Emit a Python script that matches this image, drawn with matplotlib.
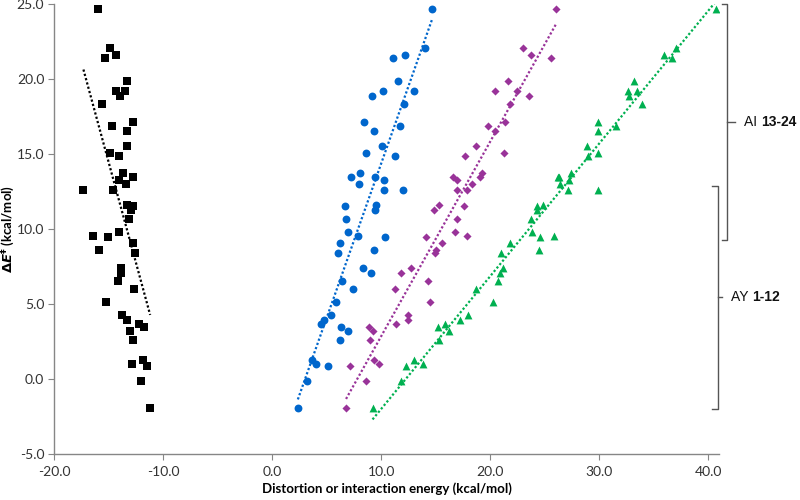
import numpy as np
import matplotlib
matplotlib.use("Agg")
import matplotlib.pyplot as plt

# Shared activation barriers (kcal/mol), one per point
dE = [24.7, 22.1, 21.6, 21.37, 19.87, 19.22, 19.18, 18.84, 18.35, 17.12, 16.9, 16.52,
      15.52, 15.05, 14.89, 13.71, 13.46, 13.44, 13.24, 13.01, 12.59, 12.57, 11.57, 11.54,
      11.3, 10.65, 9.78, 9.53, 9.47, 9.09, 8.57, 8.37, 7.39, 7.1, 6.56, 6.03, 5.11, 4.24,
      3.95, 3.68, 3.5, 3.21, 2.59, 1.25, 1.0, 0.87, -0.13, -1.94]

# Interaction energy (black squares)
interaction = [-15.97, -14.9, -14.35, -15.36, -13.3, -14.29, -13.46, -13.92, -15.6, -12.78,
               -14.65, -13.33, -13.33, -14.84, -14.07, -13.7, -12.78, -12.75, -14.07, -13.36,
               -17.3, -14.59, -13.27, -12.78, -12.93, -13.12, -14.0, -16.38, -15.05, -12.78,
               -15.9, -12.6, -13.82, -13.86, -14.13, -12.66, -15.2, -13.76, -13.3, -12.2,
               -11.7, -13.06, -12.78, -11.83, -12.84, -11.43, -12.0, -11.18]

# Distortion of fragment 1 (blue circles)
dist_a = [14.68, 14.0, 12.23, 11.12, 11.55, 13.0, 10.2, 9.15, 12.14, 8.48, 11.7, 9.34,
          10.11, 8.63, 11.27, 8.08, 9.43, 7.28, 10.29, 8.02, 10.23, 11.98, 9.55, 6.67,
          9.43, 6.82, 6.97, 7.9, 10.32, 6.2, 9.37, 6.02, 8.39, 9.06, 6.39, 7.4, 5.84, 5.44,
          4.76, 4.45, 6.3, 6.97, 6.27, 3.66, 4.03, 5.13, 3.2, 2.37]

# Distortion of fragment 2 (purple diamonds)
dist_b = [26.02, 23.01, 23.72, 25.56, 21.6, 20.46, 22.46, 23.6, 21.81, 21.38, 19.82, 20.49,
          18.74, 21.26, 17.67, 19.23, 16.62, 19.05, 16.93, 18.37, 16.93, 17.88, 15.27, 17.57,
          14.84, 16.93, 16.8, 17.91, 14.16, 15.61, 15.0, 14.96, 12.78, 11.83, 14.29, 11.31,
          14.5, 12.5, 12.47, 11.4, 8.91, 9.25, 9.03, 9.37, 9.8, 7.12, 8.66, 6.79]

# Total distortion (green triangles)
dist_total = [40.74, 37.02, 35.94, 36.71, 33.24, 33.52, 32.66, 32.78, 33.98, 29.89, 31.52, 29.86,
              28.91, 29.92, 29.0, 27.4, 26.2, 26.3, 27.28, 26.42, 27.19, 29.89, 24.88, 24.27,
              24.27, 23.78, 23.81, 25.84, 24.55, 21.87, 24.52, 20.98, 21.2, 20.95, 20.74, 18.68,
              20.3, 17.94, 17.24, 15.88, 15.24, 16.25, 15.27, 13.06, 13.82, 12.29, 11.86, 9.22]

x_ticks = [-20.0, -10.0, 0.0, 10.0, 20.0, 30.0, 40.0]
y_ticks = [-5.0, 0.0, 5.0, 10.0, 15.0, 20.0, 25.0]

groups = [("AI ", "13-24", 9.3, 25.0), ("AY ", "1-12", -2.0, 12.9)]

plt.rcParams['font.family'] = ['Lato', 'DejaVu Sans']
plt.rcParams['mathtext.fontset'] = 'dejavusans'

fig = plt.figure(figsize=(8, 5), dpi=100)
ax = fig.add_axes([54/800, 1-454/500, (719-54)/800, 450/500])

series = [
    (interaction, 's', 'black', 30),
    (dist_a, 'o', '#0066CC', 32),
    (dist_b, 'D', '#993399', 17),
    (dist_total, '^', '#00B050', 32),
]
y = np.array(dE)
for xs, mk, col, sz in series:
    x = np.array(xs)
    ax.scatter(x, y, marker=mk, s=sz, color=col, linewidths=0, zorder=3)
    k, b = np.polyfit(x, y, 1)
    xx = np.array([x.min(), x.max()])
    ax.plot(xx, k*xx + b, linestyle=(0, (1, 1)), color=col, lw=1.6, zorder=2)

ax.set_xlim(-20, 41)
ax.set_ylim(-5, 25)
ax.set_xticks(x_ticks)
ax.set_yticks(y_ticks)
ax.set_xticklabels([f"{v:.1f}" for v in x_ticks])
ax.set_yticklabels([f"{v:.1f}" for v in y_ticks])
for s in ['top', 'right']:
    ax.spines[s].set_visible(False)
for s in ['left', 'bottom']:
    ax.spines[s].set_color('#868686')
    ax.spines[s].set_linewidth(1.0)
ax.tick_params(axis='both', direction='out', length=4, color='#868686',
               labelsize=10, labelcolor='#333333', pad=3)
ax.tick_params(axis='x', pad=5)

ax.set_xlabel('Distortion or interaction energy (kcal/mol)', fontsize=9.5,
              fontweight='bold', labelpad=3)
ax.set_ylabel(r'$\mathbf{\Delta}\mathbfit{E}^{\mathbf{\ddagger}}$ (kcal/mol)', fontsize=9.5,
              fontweight='bold', labelpad=0)

# Brackets
trans = ax.get_yaxis_transform()
bx = [(1.012, 1.005, 1.024), (0.998, 0.990, 1.004)]
fig.canvas.draw()
renderer = fig.canvas.get_renderer()
for (lab, num, y0, y1), (xv, xs, xt) in zip(groups, bx):
    ax.plot([xs, xv, xv, xs], [y0, y0, y1, y1], color='#555555', lw=1.0,
            transform=trans, clip_on=False)
    ym = (y0 + y1) / 2
    ax.plot([xv, xt], [ym, ym], color='#555555', lw=1.0, transform=trans, clip_on=False)
    t = ax.text(xt + 0.014, ym, lab, transform=trans, ha='left', va='center',
                fontsize=10, family='Liberation Sans', color='#111111')
    bb = t.get_window_extent(renderer)
    xr = ax.transAxes.inverted().transform((bb.x1, bb.y0))[0]
    ax.text(xr, ym, num, transform=trans, ha='left', va='center',
            fontsize=10, family='Liberation Sans', fontweight='bold', color='#111111')

fig.savefig('out.png', dpi=100)
